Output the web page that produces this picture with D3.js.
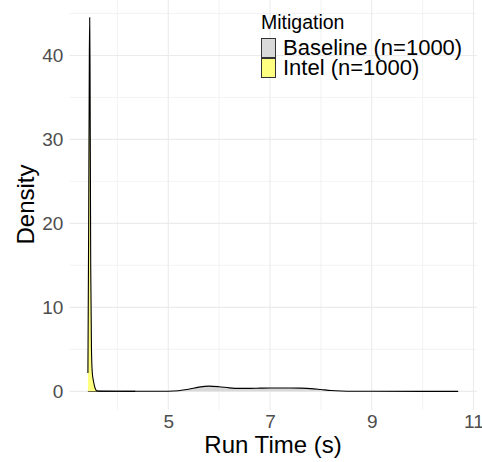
<!DOCTYPE html>
<html>
<head>
<meta charset="utf-8">
<script src="https://cdn.jsdelivr.net/npm/d3@7"></script>
<style>
  body { margin: 0; background: #fff; }
  svg { display: block; font-family: "Liberation Sans", Arial, Helvetica, sans-serif; }
</style>
</head>
<body>
<svg width="482" height="462"></svg>
<script>
// density curves
var intelX = [3.42, 3.435, 3.448, 3.455, 3.462, 3.475, 3.49, 3.505, 3.53, 3.56, 3.60, 3.70, 4.0, 4.35];
var intelY = [2.2, 20, 40, 44.5, 38, 15, 5, 2.3, 1.2, 0.4, 0.05, 0.01, 0.005, 0.003];
var baseX = [3.42, 4.0, 4.5, 5.0, 5.2, 5.4, 5.6, 5.8, 6.0, 6.2, 6.4, 6.6, 6.8, 7.0, 7.2, 7.4, 7.6, 7.8, 8.0, 8.2, 8.4, 8.6, 9.0, 10.0, 10.7];
var baseY = [0.03, 0.01, 0.01, 0.02, 0.08, 0.25, 0.5, 0.62, 0.55, 0.42, 0.36, 0.36, 0.38, 0.4, 0.4, 0.4, 0.38, 0.33, 0.22, 0.1, 0.04, 0.01, 0.005, 0.003, 0.003];
var seriesNames = ["Baseline (n=1000)", "Intel (n=1000)"];
var seriesFill = ["#d9d9d9", "#ffff80"];
var xTicks = [5, 7, 9, 11];
var xMinor = [4, 6, 8, 10];
var yTicks = [0, 10, 20, 30, 40];
var yMinor = [5, 15, 25, 35, 45];

var svg = d3.select("svg"),
    width = +svg.attr("width"),
    height = +svg.attr("height");

// panel edges ("top" is taken by window, so use p*)
var pLeft = 69.4, pRight = 476.7, pTop = -1, pBottom = 410;

var x = d3.scaleLinear().domain([3.056, 11.064]).range([pLeft, pRight]);
var y = d3.scaleLinear().domain([-2.22, 46.72]).range([pBottom, pTop]);

var grid = svg.append("g");
// minor grid first, thinner
grid.selectAll(".xminor").data(xMinor).enter().append("line")
    .attr("x1", x).attr("x2", x).attr("y1", pTop).attr("y2", pBottom)
    .style("stroke", "#ebebeb").style("stroke-width", 0.6);
grid.selectAll(".yminor").data(yMinor).enter().append("line")
    .attr("x1", pLeft).attr("x2", pRight).attr("y1", y).attr("y2", y)
    .style("stroke", "#ebebeb").style("stroke-width", 0.6);
grid.selectAll(".xmajor").data(xTicks).enter().append("line")
    .attr("x1", x).attr("x2", x).attr("y1", pTop).attr("y2", pBottom)
    .style("stroke", "#ebebeb").style("stroke-width", 1.1);
grid.selectAll(".ymajor").data(yTicks).enter().append("line")
    .attr("x1", pLeft).attr("x2", pRight).attr("y1", y).attr("y2", y)
    .style("stroke", "#ebebeb").style("stroke-width", 1.1);

var series = [
    { name: seriesNames[0], fill: seriesFill[0], pts: d3.zip(baseX, baseY) },
    { name: seriesNames[1], fill: seriesFill[1], pts: d3.zip(intelX, intelY) }
];

var area = d3.area()
    .x(function(d) { return x(d[0]); })
    .y0(y(0))
    .y1(function(d) { return y(d[1]); })
    .curve(d3.curveMonotoneX);
var line = d3.line()
    .x(function(d) { return x(d[0]); })
    .y(function(d) { return y(d[1]); })
    .curve(d3.curveMonotoneX);

var dens = svg.append("g");
series.forEach(function(s) {
    dens.append("path").attr("d", area(s.pts)).style("fill", s.fill).style("stroke", "none");
    dens.append("path").attr("d", line(s.pts)).style("fill", "none")
        .style("stroke", "#000").style("stroke-width", 1.1);
});

// axes (no lines, just labels)
var xAxis = svg.append("g").attr("transform", "translate(0," + pBottom + ")")
    .call(d3.axisBottom(x).tickValues(xTicks).tickSize(0).tickPadding(5).tickFormat(d3.format("d")));
var yAxis = svg.append("g").attr("transform", "translate(" + pLeft + ",0)")
    .call(d3.axisLeft(y).tickValues(yTicks).tickSize(0).tickPadding(6).tickFormat(d3.format("d")));
[xAxis, yAxis].forEach(function(a) {
    a.select(".domain").remove();
    a.selectAll("text").style("font-size", "19px").style("fill", "#4d4d4d")
        .style("font-family", "'Liberation Sans', Arial, sans-serif");
});

svg.append("text")
    .attr("x", (pLeft + pRight) / 2).attr("y", 453)
    .attr("text-anchor", "middle")
    .style("font-size", "24px")
    .text("Run Time (s)");
svg.append("text")
    .attr("transform", "translate(34," + ((pTop + pBottom) / 2) + ") rotate(-90)")
    .attr("text-anchor", "middle")
    .style("font-size", "24px")
    .text("Density");

// legend
var legend = svg.append("g").attr("transform", "translate(261,0)");
legend.append("text").attr("x", 0).attr("y", 29).style("font-size", "19.5px").text("Mitigation");
var item = legend.selectAll(".item").data(series).enter().append("g")
    .attr("transform", function(d, i) { return "translate(0," + (38 + i * 20) + ")"; });
item.append("rect").attr("x", 0.5).attr("y", 0.5).attr("width", 14).attr("height", 19)
    .style("fill", function(d) { return d.fill; })
    .style("stroke", "#333").style("stroke-width", 1);
item.append("text").attr("x", 22).attr("y", 17).style("font-size", "22px")
    .text(function(d) { return d.name; });
</script>
</body>
</html>
